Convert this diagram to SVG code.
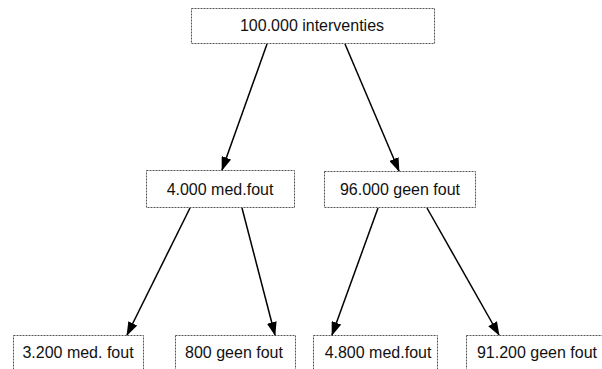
<svg xmlns="http://www.w3.org/2000/svg" width="602" height="369" viewBox="0 0 602 369">
<style>
.box{fill:#fff;stroke:#555;stroke-width:1;stroke-dasharray:2 1}
.t{font-family:"Liberation Sans",Arial,sans-serif;font-size:16px;fill:#111;text-anchor:middle}
.c{stroke:#000;stroke-width:1.5;fill:none;marker-end:url(#ah)}
</style>
<defs>
<marker id="ah" markerWidth="14" markerHeight="10" refX="13" refY="5" orient="auto" markerUnits="userSpaceOnUse">
<path d="M0,0 L14,5 L0,10 z" fill="#000"/>
</marker>
</defs>
<rect width="602" height="369" fill="#fff"/>
<g id="n0"><rect class="box" x="191.5" y="8.5" width="243" height="35"/><text class="t" x="312" y="31">100.000 interventies</text></g>
<g id="n1"><rect class="box" x="146.5" y="170.5" width="148" height="37"/><text class="t" x="220" y="195">4.000 med.fout</text></g>
<g id="n2"><rect class="box" x="324.5" y="171.5" width="151" height="36"/><text class="t" x="400" y="195">96.000 geen fout</text></g>
<g id="n3"><rect class="box" x="13.5" y="335.5" width="130" height="40"/><text class="t" x="78" y="358">3.200 med. fout</text></g>
<g id="n4"><rect class="box" x="175.5" y="335.5" width="120" height="40"/><text class="t" x="234" y="358">800 geen fout</text></g>
<g id="n5"><rect class="box" x="313.5" y="335.5" width="124" height="40"/><text class="t" x="378" y="358">4.800 med.fout</text></g>
<g id="n6"><rect class="box" x="466.5" y="335.5" width="144" height="40"/><text class="t" x="537" y="358">91.200 geen fout</text></g>
<g id="connectors">
<line class="c" x1="267" y1="44" x2="222" y2="170"/>
<line class="c" x1="345" y1="44" x2="399" y2="171"/>
<line class="c" x1="190" y1="208" x2="127" y2="335"/>
<line class="c" x1="242" y1="208" x2="275" y2="335"/>
<line class="c" x1="378" y1="208" x2="332" y2="335"/>
<line class="c" x1="427" y1="208" x2="499" y2="335"/>
</g>
</svg>
